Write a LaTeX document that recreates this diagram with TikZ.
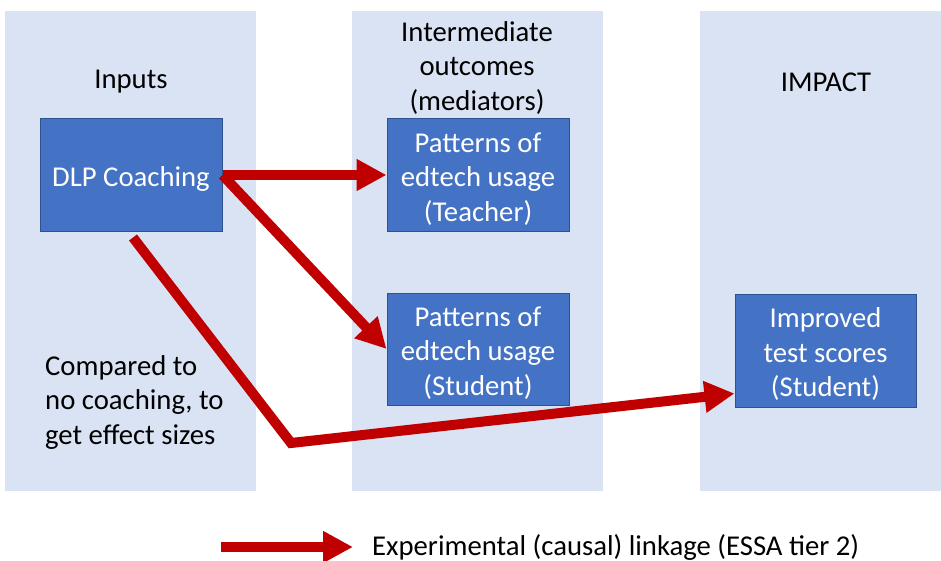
\documentclass[tikz,border=0pt]{standalone}
\usepackage{fontspec}
\setmainfont{Carlito}
\usetikzlibrary{arrows.meta,calc}
\definecolor{panelblue}{HTML}{DAE3F3}
\definecolor{boxblue}{HTML}{4472C4}
\definecolor{boxedge}{HTML}{2F528F}
\definecolor{linkred}{HTML}{C00000}
\tikzset{
  bigtext/.style={font=\fontsize{28.7}{34.5}\selectfont},
  panel/.style={fill=panelblue, draw=none},
  stagetext/.style={bigtext, text=white, align=center, inner sep=0pt, yshift=-4pt},
  stage/.style={draw=boxedge, line width=1pt, fill=boxblue,
    minimum width=182pt, minimum height=112pt, inner sep=0pt},
  heading/.style={bigtext, align=center, inner sep=0pt},
  causal/.style={draw=linkred, line width=10pt, miter limit=10,
    -{Triangle[length=30pt,width=30pt]}}
}
\begin{document}
\begin{tikzpicture}[x=1pt,y=-1pt]
  \useasboundingbox (0,0) rectangle (941,561);
  % column backgrounds
  \fill[panel] (5,11) rectangle (256,491);
  \fill[panel] (352,11) rectangle (603,491);
  \fill[panel] (700,11) rectangle (941,491);
  % column headings
  \node[heading] (hin) at (131,82) {Inputs};
  \node[heading] (hmid) at (477,68) {Intermediate\\outcomes\\(mediators)};
  \node[heading] (himp) at (826,82) {IMPACT};
  % stages
  \node[stage, label={[stagetext]center:DLP Coaching}] (dlp) at (131,175) {};
  \node[stage, label={[stagetext]center:{Patterns of\\edtech usage\\(Teacher)}}] (teacher) at (478,175) {};
  \node[stage, label={[stagetext]center:{Patterns of\\edtech usage\\(Student)}}] (student) at (478,349) {};
  \node[stage, minimum width=181pt, minimum height=113pt,
    label={[stagetext]center:{Improved\\test scores\\(Student)}}] (improved) at (825.5,350.5) {};
  % note on the comparison
  \node[heading, align=left, anchor=west] (note) at (45,402) {Compared to\\no coaching, to\\get effect sizes};
  % causal links
  \coordinate (bend) at (291,443);
  \draw[causal] (dlp.east) -- (teacher.west);
  \draw[causal] (dlp.east) -- (student.west);
  \draw[causal] ($(dlp.south)+(2,6)$) -- (bend) -- ([yshift=14pt]improved.south west);
  % legend
  \node[heading, anchor=west] (legend) at (372,547.5) {Experimental (causal) linkage (ESSA tier 2)};
  \coordinate (legstart) at (221,547);
  \draw[causal] (legstart) -- (353,547);
\end{tikzpicture}
\end{document}
